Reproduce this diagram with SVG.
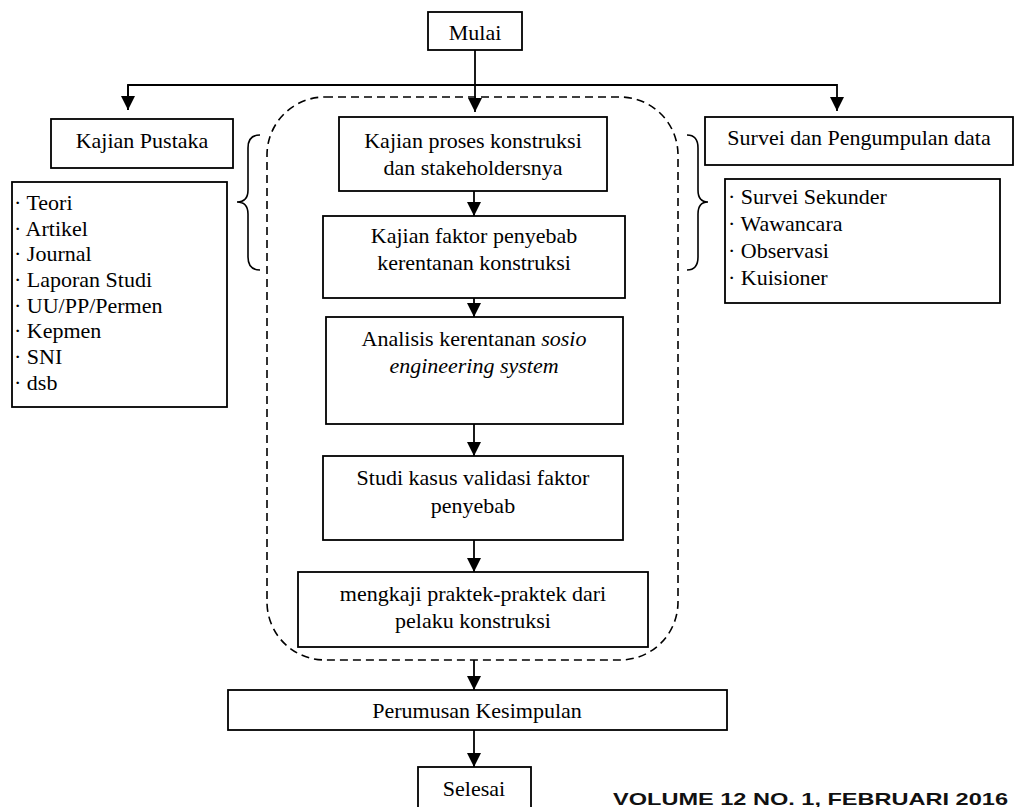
<svg xmlns="http://www.w3.org/2000/svg" width="1015" height="807" viewBox="0 0 1015 807">
<style>
  .box { fill: #fff; stroke: #000; stroke-width: 1.8; }
  .t { font-family: "Liberation Serif", "Times New Roman", serif; font-size: 22px; fill: #000; }
  .c { text-anchor: middle; }
  .ln { fill: none; stroke: #000; stroke-width: 1.8; }
  .dash { fill: none; stroke: #000; stroke-width: 1.6; stroke-dasharray: 8 5; }
  .brace { fill: none; stroke: #000; stroke-width: 1.6; }
  .foot { font-family: "Liberation Sans", Arial, sans-serif; font-weight: bold; font-size: 17px; fill: #111; }
</style>
<defs>
  <marker id="ah" markerWidth="14" markerHeight="14" viewBox="0 0 14 14" refX="14" refY="7" orient="auto" markerUnits="userSpaceOnUse">
    <path d="M0,0 L14,7 L0,14 Z" fill="#000"/>
  </marker>
</defs>

<g id="group-box">
  <rect class="dash" x="267" y="97" width="411" height="563" rx="58" ry="58"/>
</g>

<g id="braces">
  <path class="brace" d="M260,135 Q248,135 248,148 L248,190 Q248,202 237,202 Q248,202 248,214 L248,257 Q248,270 260,270"/>
  <path class="brace" d="M687,135 Q698,135 698,148 L698,190 Q698,202 708,202 Q698,202 698,214 L698,257 Q698,270 687,270"/>
</g>

<g id="connectors">
  <line class="ln" x1="475" y1="50" x2="475" y2="112" marker-end="url(#ah)"/>
  <polyline class="ln" points="128,110 128,85 837,85 837,111" marker-end="url(#ah)"/>
  <line class="ln" x1="128" y1="85" x2="128" y2="110" marker-end="url(#ah)"/>
  <line class="ln" x1="474" y1="191" x2="474" y2="216" marker-end="url(#ah)"/>
  <line class="ln" x1="474" y1="298" x2="474" y2="317" marker-end="url(#ah)"/>
  <line class="ln" x1="474" y1="424" x2="474" y2="456" marker-end="url(#ah)"/>
  <line class="ln" x1="474" y1="540" x2="474" y2="572" marker-end="url(#ah)"/>
  <line class="ln" x1="474" y1="660" x2="474" y2="690" marker-end="url(#ah)"/>
  <line class="ln" x1="474" y1="730" x2="474" y2="767" marker-end="url(#ah)"/>
</g>

<g id="mulai">
  <rect class="box" x="428" y="12" width="94" height="38"/>
  <text class="t c" x="475" y="40">Mulai</text>
</g>

<g id="kajian-pustaka">
  <rect class="box" x="51" y="119" width="182" height="49"/>
  <text class="t c" x="142" y="148">Kajian Pustaka</text>
</g>

<g id="pustaka-list">
  <rect class="box" x="12" y="182" width="215" height="225"/>
  <text class="t" x="14" y="210">· Teori</text>
  <text class="t" x="14" y="236">· Artikel</text>
  <text class="t" x="14" y="261">· Journal</text>
  <text class="t" x="14" y="287">· Laporan Studi</text>
  <text class="t" x="14" y="313">· UU/PP/Permen</text>
  <text class="t" x="14" y="338">· Kepmen</text>
  <text class="t" x="14" y="364">· SNI</text>
  <text class="t" x="14" y="390">· dsb</text>
</g>

<g id="survei">
  <rect class="box" x="705" y="117" width="308" height="48"/>
  <text class="t c" x="859" y="145">Survei dan Pengumpulan data</text>
</g>

<g id="survei-list">
  <rect class="box" x="725" y="179" width="275" height="124"/>
  <text class="t" x="728" y="204">· Survei Sekunder</text>
  <text class="t" x="728" y="231">· Wawancara</text>
  <text class="t" x="728" y="258">· Observasi</text>
  <text class="t" x="728" y="285">· Kuisioner</text>
</g>

<g id="kajian-proses">
  <rect class="box" x="339" y="117" width="268" height="74"/>
  <text class="t c" x="473" y="148">Kajian proses konstruksi</text>
  <text class="t c" x="473" y="175">dan stakeholdersnya</text>
</g>

<g id="kajian-faktor">
  <rect class="box" x="323" y="216" width="302" height="82"/>
  <text class="t c" x="474" y="243">Kajian faktor penyebab</text>
  <text class="t c" x="474" y="270">kerentanan konstruksi</text>
</g>

<g id="analisis">
  <rect class="box" x="326" y="317" width="297" height="107"/>
  <text class="t c" x="474" y="346">Analisis kerentanan <tspan font-style="italic">sosio</tspan></text>
  <text class="t c" x="474" y="373" font-style="italic">engineering system</text>
</g>

<g id="studi-kasus">
  <rect class="box" x="323" y="456" width="300" height="84"/>
  <text class="t c" x="473" y="485">Studi kasus validasi faktor</text>
  <text class="t c" x="473" y="513">penyebab</text>
</g>

<g id="mengkaji">
  <rect class="box" x="298" y="572" width="350" height="75"/>
  <text class="t c" x="473" y="601">mengkaji praktek-praktek dari</text>
  <text class="t c" x="473" y="628">pelaku konstruksi</text>
</g>

<g id="perumusan">
  <rect class="box" x="228" y="690" width="499" height="40"/>
  <text class="t c" x="477" y="718">Perumusan Kesimpulan</text>
</g>

<g id="selesai">
  <rect class="box" x="418" y="767" width="113" height="50"/>
  <text class="t c" x="474" y="796">Selesai</text>
</g>

<text class="foot" x="613" y="805" textLength="395" lengthAdjust="spacingAndGlyphs">VOLUME 12 NO. 1, FEBRUARI 2016</text>
</svg>
